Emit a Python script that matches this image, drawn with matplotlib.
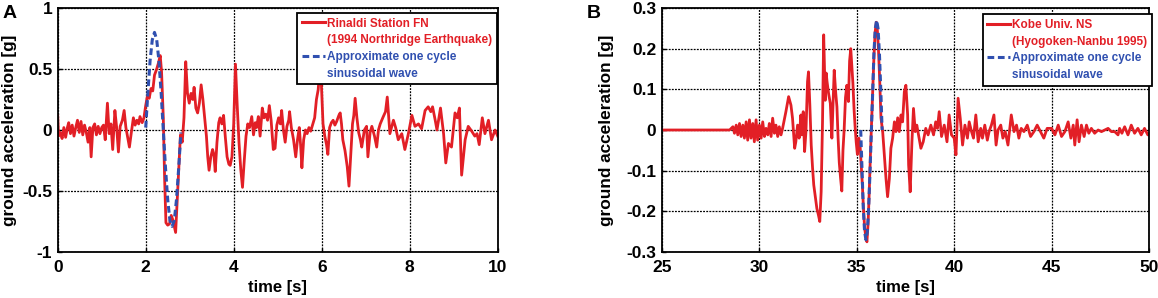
import matplotlib
matplotlib.use('Agg')
import matplotlib.pyplot as plt
from matplotlib.lines import Line2D

plt.rcParams['font.family'] = ['Liberation Sans', 'DejaVu Sans']
plt.rcParams['axes.unicode_minus'] = False

# ---- panel A: Rinaldi Station FN (1994 Northridge) ----
t_rinaldi = [0.00, 0.02, 0.06, 0.10, 0.14, 0.18, 0.22, 0.25, 0.29, 0.33, 0.37, 0.41, 0.45, 0.49,
             0.53, 0.57, 0.61, 0.65, 0.69, 0.73, 0.76, 0.80, 0.84, 0.88, 0.92, 0.96, 1.00, 1.04,
             1.08, 1.13, 1.17, 1.21, 1.25, 1.30, 1.34, 1.38, 1.42, 1.47, 1.51, 1.55, 1.59, 1.63,
             1.67, 1.72, 1.76, 1.80, 1.84, 1.87, 1.92, 1.96, 2.00, 2.04, 2.08, 2.12, 2.16, 2.20,
             2.25, 2.29, 2.33, 2.36, 2.40, 2.43, 2.46, 2.50, 2.54, 2.58, 2.62, 2.65, 2.68, 2.72,
             2.76, 2.79, 2.83, 2.87, 2.91, 2.95, 2.99, 3.03, 3.07, 3.10, 3.14, 3.18, 3.22, 3.26,
             3.30, 3.34, 3.38, 3.41, 3.44, 3.48, 3.52, 3.55, 3.58, 3.62, 3.66, 3.69, 3.73, 3.77,
             3.81, 3.85, 3.89, 3.92, 3.96, 4.00, 4.04, 4.08, 4.12, 4.16, 4.20, 4.24, 4.28, 4.32,
             4.36, 4.41, 4.45, 4.49, 4.52, 4.56, 4.60, 4.65, 4.69, 4.73, 4.77, 4.81, 4.85, 4.90,
             4.94, 4.98, 5.02, 5.06, 5.09, 5.13, 5.17, 5.21, 5.25, 5.27, 5.31, 5.36, 5.41, 5.45,
             5.49, 5.52, 5.55, 5.59, 5.63, 5.67, 5.71, 5.75, 5.80, 5.84, 5.88, 5.92, 5.96, 5.99,
             6.03, 6.07, 6.11, 6.14, 6.18, 6.22, 6.26, 6.30, 6.34, 6.39, 6.42, 6.45, 6.48, 6.53,
             6.58, 6.62, 6.66, 6.70, 6.73, 6.76, 6.80, 6.84, 6.88, 6.91, 6.97, 7.02, 7.05, 7.10,
             7.14, 7.20, 7.25, 7.29, 7.33, 7.40, 7.45, 7.49, 7.55, 7.63, 7.68, 7.74, 7.82, 7.89,
             7.97, 8.05, 8.12, 8.20, 8.27, 8.35, 8.42, 8.48, 8.52, 8.58, 8.62, 8.70, 8.77, 8.82,
             8.88, 8.95, 9.03, 9.08, 9.13, 9.18, 9.26, 9.33, 9.41, 9.48, 9.53, 9.58, 9.65, 9.71,
             9.79, 9.86, 9.94, 10.00]
acc_rinaldi = [0.12, -0.05, -0.02, -0.07, 0.02, -0.06, 0.02, 0.06, -0.03, 0.04, -0.05, 0.02, 0.08, -0.02,
               0.07, -0.04, 0.04, -0.02, -0.10, 0.02, -0.22, 0.02, 0.05, -0.04, 0.03, -0.03, 0.02, 0.04,
               -0.08, 0.22, -0.03, 0.05, -0.16, 0.16, 0.02, -0.18, 0.03, 0.08, 0.16, 0.02, -0.06, -0.14,
               -0.03, 0.10, 0.04, 0.08, 0.05, 0.11, 0.06, 0.10, 0.20, 0.28, 0.26, 0.34, 0.32, 0.45,
               0.50, 0.55, 0.61, 0.48, 0.10, -0.40, -0.76, -0.78, -0.77, -0.70, -0.74, -0.79, -0.84, -0.55,
               -0.25, -0.04, -0.10, 0.10, 0.56, 0.30, 0.22, 0.30, 0.25, 0.35, 0.18, 0.14, 0.22, 0.37,
               0.25, 0.10, -0.05, -0.22, -0.33, -0.22, -0.16, -0.20, -0.34, -0.10, 0.06, 0.10, 0.05, 0.12,
               -0.06, -0.22, -0.28, -0.29, -0.22, 0.05, 0.54, 0.20, -0.10, -0.32, -0.47, -0.25, -0.05, 0.05,
               0.02, 0.11, -0.04, 0.06, 0.02, 0.11, -0.05, 0.18, 0.10, 0.13, 0.08, 0.20, 0.08, -0.16,
               -0.15, 0.04, 0.10, 0.05, 0.16, 0.00, -0.10, 0.03, 0.08, 0.15, 0.02, -0.08, -0.22, -0.08,
               0.02, -0.12, -0.31, -0.08, 0.00, -0.03, 0.02, -0.01, 0.05, 0.10, 0.25, 0.33, 0.52, 0.40,
               0.05, -0.05, -0.12, -0.20, 0.02, 0.06, 0.08, 0.04, 0.07, 0.12, 0.14, 0.05, -0.08, -0.17,
               -0.30, -0.46, -0.20, 0.05, 0.12, 0.26, 0.10, -0.02, -0.08, -0.14, 0.00, 0.03, -0.22, -0.02,
               0.03, -0.05, -0.14, 0.00, 0.05, 0.11, 0.15, 0.27, -0.03, 0.08, 0.02, -0.08, -0.03, -0.16,
               -0.03, 0.12, 0.03, 0.05, 0.01, 0.16, 0.19, 0.15, 0.19, 0.08, 0.00, 0.18, -0.03, -0.27,
               -0.11, -0.14, 0.14, 0.10, 0.18, -0.37, -0.08, 0.03, -0.01, -0.05, -0.03, -0.12, 0.10, -0.03,
               0.08, -0.08, 0.00, -0.05]

t_sine_a = [2.00, 2.05, 2.10, 2.15, 2.20, 2.25, 2.30, 2.35, 2.40,
            2.45, 2.50, 2.55, 2.60, 2.65, 2.70, 2.75, 2.80]
acc_sine_a = [0.02, 0.31, 0.57, 0.74, 0.80, 0.74, 0.57, 0.31, 0.00,
              -0.31, -0.57, -0.74, -0.79, -0.74, -0.57, -0.31, -0.02]

# ---- panel B: Kobe Univ. NS (Hyogoken-Nanbu 1995) ----
t_kobe = [25.0, 28.3, 28.47, 28.64, 28.72, 28.81, 28.89, 28.98, 29.06, 29.15, 29.23, 29.32, 29.40,
          29.49, 29.57, 29.66, 29.74, 29.83, 29.91, 30.00, 30.09, 30.17, 30.26, 30.34, 30.43, 30.51,
          30.60, 30.68, 30.77, 30.85, 30.94, 31.02, 31.11, 31.19, 31.28, 31.36, 31.50, 31.62, 31.70,
          31.81, 31.87, 31.96, 32.04, 32.13, 32.18, 32.25, 32.32, 32.39, 32.47, 32.52, 32.59, 32.66,
          32.73, 32.79, 32.86, 32.95, 33.03, 33.10, 33.17, 33.24, 33.30, 33.38, 33.43, 33.47, 33.55,
          33.64, 33.72, 33.84, 33.92, 33.98, 34.04, 34.10, 34.17, 34.23, 34.29, 34.35, 34.42, 34.49,
          34.57, 34.63, 34.69, 34.74, 34.80, 34.86, 34.91, 34.97, 35.03, 35.10, 35.17, 35.23, 35.28,
          35.34, 35.40, 35.47, 35.52, 35.58, 35.64, 35.70, 35.76, 35.82, 35.88, 35.94, 36.00, 36.05,
          36.11, 36.17, 36.24, 36.33, 36.41, 36.50, 36.58, 36.67, 36.75, 36.84, 36.93, 37.01, 37.10,
          37.18, 37.27, 37.35, 37.44, 37.52, 37.61, 37.66, 37.74, 37.83, 37.91, 38.00, 38.08, 38.20,
          38.29, 38.41, 38.54, 38.66, 38.80, 38.94, 39.05, 39.14, 39.23, 39.35, 39.49, 39.63, 39.74,
          39.86, 40.00, 40.09, 40.20, 40.31, 40.43, 40.55, 40.68, 40.77, 40.89, 40.99, 41.11, 41.23,
          41.36, 41.45, 41.57, 41.70, 41.79, 41.91, 42.04, 42.15, 42.25, 42.39, 42.50, 42.62, 42.76,
          42.93, 43.07, 43.20, 43.32, 43.44, 43.58, 43.75, 43.92, 44.09, 44.26, 44.43, 44.60, 44.77,
          45.00, 45.17, 45.34, 45.51, 45.68, 45.85, 45.99, 46.11, 46.19, 46.31, 46.41, 46.53, 46.67,
          46.79, 46.91, 47.04, 47.21, 47.39, 47.56, 47.73, 47.90, 48.07, 48.24, 48.41, 48.49, 48.61,
          48.75, 48.92, 49.09, 49.26, 49.43, 49.60, 49.77, 49.94, 50.00]
acc_kobe = [0.0, 0.0, 0.0, 0.008, -0.008, 0.012, -0.012, 0.016, -0.016, 0.012, -0.020, 0.020, -0.025,
            0.025, -0.020, 0.016, -0.029, 0.025, -0.025, 0.012, -0.020, 0.020, -0.016, 0.004, -0.012, 0.016,
            -0.016, 0.029, -0.008, 0.012, -0.016, 0.008, -0.012, 0.004, 0.025, 0.045, 0.082, 0.061, 0.029,
            -0.045, -0.029, 0.012, -0.020, 0.037, -0.012, 0.045, -0.053, -0.004, 0.119, 0.143, 0.061, -0.037,
            -0.094, -0.135, -0.160, -0.193, -0.209, -0.225, -0.152, 0.020, 0.234, 0.073, 0.140, 0.120, 0.090,
            0.066, -0.020, 0.147, 0.090, 0.057, -0.020, -0.080, -0.120, -0.150, -0.050, 0.000, 0.080, 0.110,
            0.070, 0.170, 0.200, 0.160, 0.115, 0.050, 0.010, -0.030, -0.060, -0.020, -0.040, -0.090, -0.130,
            -0.190, -0.240, -0.265, -0.275, -0.230, -0.150, -0.060, 0.020, 0.100, 0.180, 0.240, 0.265, 0.250,
            0.200, 0.130, 0.030, -0.005, -0.060, -0.120, -0.164, -0.120, -0.045, -0.020, 0.020, -0.004, 0.030,
            -0.004, 0.037, 0.020, 0.094, 0.110, 0.037, -0.086, -0.152, -0.029, 0.053, -0.004, 0.012, -0.020,
            -0.045, -0.029, 0.004, -0.012, 0.012, -0.012, 0.020, 0.004, 0.045, -0.016, 0.012, -0.029, 0.037,
            -0.012, -0.020, -0.061, 0.078, 0.029, -0.037, 0.012, -0.020, 0.020, -0.004, -0.020, 0.037, -0.029,
            0.004, -0.020, 0.012, -0.025, -0.004, 0.012, 0.037, -0.037, 0.000, 0.012, -0.020, -0.004, -0.037,
            0.037, -0.004, 0.012, -0.020, 0.004, -0.004, 0.012, -0.016, -0.004, 0.012, -0.004, -0.020, 0.004,
            0.004, -0.012, 0.012, -0.016, -0.004, 0.020, -0.020, 0.012, -0.037, 0.025, -0.029, 0.012, -0.016,
            0.012, -0.008, 0.004, -0.008, 0.000, -0.004, 0.000, 0.004, -0.004, -0.004, -0.012, 0.004, -0.008,
            0.008, -0.012, 0.012, -0.008, 0.004, -0.012, 0.004, -0.012, -0.010]

t_sine_b = [35.20, 35.27, 35.33, 35.40, 35.47, 35.54, 35.61, 35.68, 35.75,
            35.82, 35.88, 35.95, 36.02, 36.09, 36.16, 36.23, 36.30]
acc_sine_b = [0.00, -0.10, -0.19, -0.25, -0.27, -0.25, -0.19, -0.10, 0.00,
              0.10, 0.19, 0.25, 0.27, 0.25, 0.19, 0.10, 0.00]

yticks_a = [-1, -0.5, 0, 0.5, 1]
ytick_labels_a = ['-1', '-0.5', '0', '0.5', '1']
yticks_b = [-0.3, -0.2, -0.1, 0, 0.1, 0.2, 0.3]
ytick_labels_b = ['-0.3', '-0.2', '-0.1', '0', '0.1', '0.2', '0.3']

RED = '#e21f26'
BLUE = '#3050b0'
DASH = (0, (2.2, 1.2))

W, H = 1158, 298
fig = plt.figure(figsize=(W / 100, H / 100), dpi=100)
axA = fig.add_axes([57.7 / W, 46 / H, 440 / W, 244 / H])
axB = fig.add_axes([662 / W, 46 / H, 487 / W, 244 / H])


def style_axes(ax):
    ax.grid(True, color='k', linestyle=(0, (1.5, 1)), linewidth=0.9)
    ax.set_axisbelow(True)
    ax.tick_params(direction='in', length=3, width=1, labelsize=12.5)
    ax.tick_params(axis='x', pad=6)
    ax.tick_params(axis='y', pad=4)
    for lab in ax.get_xticklabels() + ax.get_yticklabels():
        lab.set_fontweight('bold')
    for s in ax.spines.values():
        s.set_linewidth(1.3)
    ax.set_xlabel('time [s]', fontsize=12, fontweight='bold')
    ax.xaxis.set_label_coords(0.5, -0.115)
    ax.set_ylabel('ground acceleration [g]', fontsize=12.4, fontweight='bold', va='center')


def add_legend(ax, line1, line2, anchor):
    handles = [Line2D([], [], color=RED, lw=2.2),
               Line2D([], [], color='none'),
               Line2D([], [], color=BLUE, lw=2.2, linestyle=DASH),
               Line2D([], [], color='none')]
    labels = [line1, line2, 'Approximate one cycle', 'sinusoidal wave']
    leg = ax.legend(handles, labels, loc='upper right', bbox_to_anchor=anchor,
                    prop={'size': 8.5, 'weight': 'bold'}, fancybox=False,
                    edgecolor='k', framealpha=1,
                    handlelength=1.9, handletextpad=0.2, labelspacing=0.4,
                    borderpad=0.4, borderaxespad=0)
    leg.get_frame().set_linewidth(1.3)
    for txt, c in zip(leg.get_texts(), [RED, RED, BLUE, BLUE]):
        txt.set_color(c)


# panel A
axA.plot(t_rinaldi, acc_rinaldi, color=RED, lw=2.0)
axA.plot(t_sine_a, acc_sine_a, color=BLUE, lw=2.2, linestyle=DASH)
axA.set_xlim(0, 10)
axA.set_ylim(-1, 1)
axA.set_xticks([0, 2, 4, 6, 8, 10])
axA.set_yticks(yticks_a)
axA.set_yticklabels(ytick_labels_a)
style_axes(axA)
axA.yaxis.set_label_coords(-0.11, 0.5)
add_legend(axA, 'Rinaldi Station FN', '(1994 Northridge Earthquake)', (0.998, 0.98))

# panel B
axB.plot(t_kobe, acc_kobe, color=RED, lw=2.0)
axB.plot(t_sine_b, acc_sine_b, color=BLUE, lw=2.2, linestyle=DASH)
axB.set_xlim(25, 50)
axB.set_ylim(-0.3, 0.3)
axB.set_xticks([25, 30, 35, 40, 45, 50])
axB.set_yticks(yticks_b)
axB.set_yticklabels(ytick_labels_b)
style_axes(axB)
axB.yaxis.set_label_coords(-0.113, 0.5)
add_legend(axB, 'Kobe Univ. NS', '(Hyogoken-Nanbu 1995)', (1.006, 0.975))

fig.text(3 / W, 1 - 14 / H, 'A', fontsize=14, fontweight='bold', va='center')
fig.text(587 / W, 1 - 14 / H, 'B', fontsize=14, fontweight='bold', va='center')

fig.savefig('out.png', dpi=100)
